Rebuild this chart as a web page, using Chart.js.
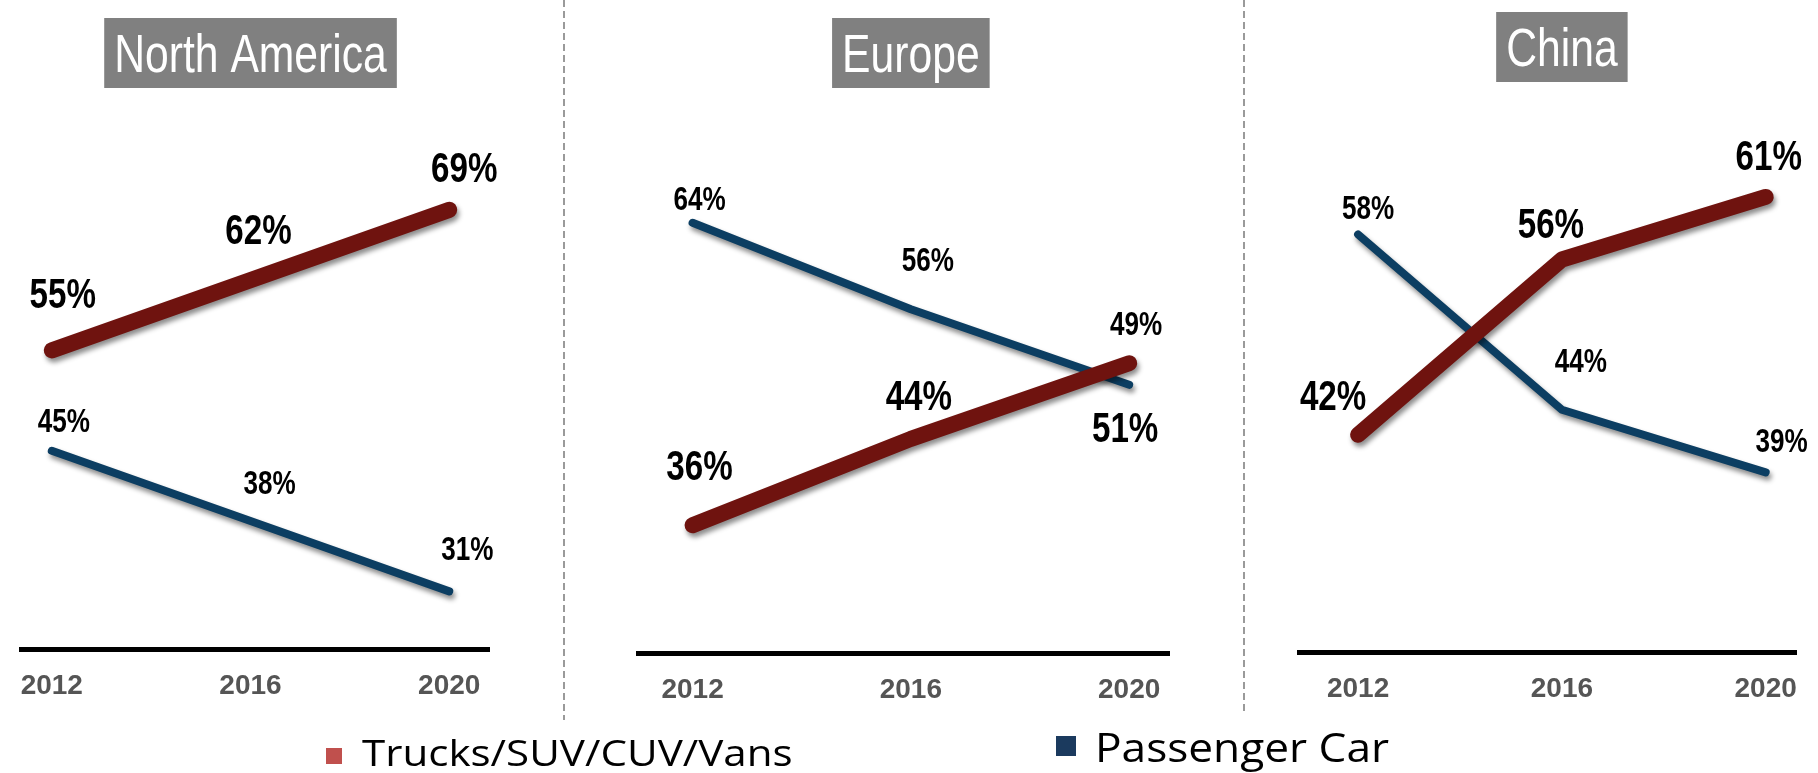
<!DOCTYPE html>
<html><head><meta charset="utf-8">
<script src="https://cdn.jsdelivr.net/npm/chart.js@4.4.1/dist/chart.umd.min.js"></script>
<style>
html,body{margin:0;padding:0;background:#fff;}
#wrap{position:relative;width:1818px;height:773px;overflow:hidden;background:#fff;}
canvas{position:absolute;top:0;}
.sep{position:absolute;top:0;width:2px;background:repeating-linear-gradient(to bottom,#9a9a9a 0 7px,rgba(255,255,255,0) 7px 11px);}
.leg{position:absolute;font-family:'Open Sans',sans-serif;color:#000;white-space:nowrap;line-height:1;transform-origin:0 0;}
.sw{position:absolute;}
</style></head><body>
<div id="wrap">
<canvas id="c0" width="560" height="773" style="left:0px"></canvas>
<canvas id="c1" width="672" height="773" style="left:568px"></canvas>
<canvas id="c2" width="570" height="773" style="left:1248px"></canvas>
<div class="sep" style="left:563px;height:720px"></div>
<div class="sep" style="left:1243px;height:715px"></div>
<div class="sw" style="left:326px;top:748px;width:16px;height:16px;background:#C0504D"></div>
<div class="leg" id="l0" style="left:362px;top:735px;font-size:36px;transform:scaleX(1.17)"></div>
<div class="sw" style="left:1056px;top:736px;width:20px;height:20px;background:#1B3A5E"></div>
<div class="leg" id="l1" style="left:1095px;top:727px;font-size:40px;transform:scaleX(1.105)"></div>
</div>
<script>
// ---- data ----
const years = [2012, 2016, 2020];
const regions = ['North America', 'Europe', 'China'];
const seriesNames = ['Trucks/SUV/CUV/Vans', 'Passenger Car'];
const naTrucks = [55, 62, 69];
const naCars = [45, 38, 31];
const euTrucks = [36, 44, 51];
const euCars = [64, 56, 49];
const cnTrucks = [42, 56, 61];
const cnCars = [58, 44, 39];

// ---- styles / layout ----
const RED = '#6F130F';
const BLUE = '#0C3E62';
const SQUEEZE = 0.79;

document.getElementById('l0').textContent = seriesNames[0];
document.getElementById('l1').textContent = seriesNames[1];

const panels = [
  {id:'c0', title:regions[0], trucks:naTrucks, cars:naCars,
   pad:{left:10, right:71, top:100, bottom:0}, axisH:124,
   xMin:2011.40, xMax:2020.80, yMin:25.26, yMax:79.94, titleTop:18,
   offT:[[11,-57],[8,-51],[15,-43]], offC:[[12,-31],[19,-39],[18,-43]]},
  {id:'c1', title:regions[1], trucks:euTrucks, cars:euCars,
   pad:{left:70, right:71, top:100, bottom:0}, axisH:120,
   xMin:2011.0, xMax:2020.73, yMin:24.17, yMax:75.37, titleTop:18,
   offT:[[7,-60],[8,-44],[-4,64]], offC:[[7,-25],[17,-50],[7,-62]]},
  {id:'c2', title:regions[2], trucks:cnTrucks, cars:cnCars,
   pad:{left:51, right:19, top:100, bottom:0}, axisH:121,
   xMin:2010.84, xMax:2020.60, yMin:24.65, yMax:68.74, titleTop:12,
   offT:[[-25,-40],[-11,-37],[3,-42]], offC:[[10,-27],[19,-50],[16,-32]]}
];

const shadowPlugin = {
  id:'lineShadow',
  beforeDatasetDraw(chart){
    const c = chart.ctx; c.save();
    c.shadowColor = 'rgba(0,0,0,0.45)'; c.shadowBlur = 5;
    c.shadowOffsetX = 2; c.shadowOffsetY = 4;
  },
  afterDatasetDraw(chart){ chart.ctx.restore(); }
};

const labelPlugin = {
  id:'valueLabels',
  afterDatasetsDraw(chart, args, opts){
    const ctx = chart.ctx;
    chart.data.datasets.forEach((ds, di) => {
      const meta = chart.getDatasetMeta(di);
      const big = di === 0;
      const size = big ? 42 : 33;
      const offs = big ? opts.offT : opts.offC;
      meta.data.forEach((pt, i) => {
        const v = ds.data[i].y;
        const x = pt.x + offs[i][0];
        const y = pt.y + offs[i][1] + 0.358 * size;
        ctx.save();
        ctx.translate(x, y);
        ctx.scale(SQUEEZE, 1);
        ctx.font = 'bold ' + size + 'px "Liberation Sans", Arial, sans-serif';
        ctx.fillStyle = '#000';
        ctx.textAlign = 'center';
        ctx.textBaseline = 'alphabetic';
        ctx.fillText(v + '%', 0, 0);
        ctx.restore();
      });
    });
  },
  afterDraw(chart, args, opts){
    const ctx = chart.ctx;
    const cx = chart.scales.x.getPixelForValue(years[1]);
    ctx.save();
    ctx.font = '54px "Liberation Sans", Arial, sans-serif';
    const tw = ctx.measureText(opts.title).width * SQUEEZE;
    const bw = tw + 20;
    ctx.fillStyle = '#808080';
    ctx.fillRect(cx - bw / 2, opts.titleTop, bw, 70);
    ctx.translate(cx, opts.titleTop + 54);
    ctx.scale(SQUEEZE, 1);
    ctx.fillStyle = '#fff';
    ctx.textAlign = 'center';
    ctx.textBaseline = 'alphabetic';
    ctx.fillText(opts.title, 0, 0);
    ctx.restore();
  }
};

panels.forEach(p => {
  const toXY = arr => arr.map((v, i) => ({x: years[i], y: v}));
  new Chart(document.getElementById(p.id), {
    type:'line',
    data:{
      datasets:[
        {label:seriesNames[0], data:toXY(p.trucks), borderColor:RED, borderWidth:16,
         borderCapStyle:'round', borderJoinStyle:'round', pointRadius:0, tension:0, clip:false},
        {label:seriesNames[1], data:toXY(p.cars), borderColor:BLUE, borderWidth:8,
         borderCapStyle:'round', borderJoinStyle:'round', pointRadius:0, tension:0, clip:false}
      ]
    },
    options:{
      responsive:false, animation:false, devicePixelRatio:1,
      layout:{padding:p.pad},
      plugins:{
        legend:{display:false}, tooltip:{enabled:false}, title:{display:false},
        valueLabels:{offT:p.offT, offC:p.offC, title:p.title, titleTop:p.titleTop}
      },
      scales:{
        x:{type:'linear', min:p.xMin, max:p.xMax,
           grid:{color:'rgba(0,0,0,0)', drawTicks:false},
           border:{display:true, color:'#000', width:5},
           afterBuildTicks(s){ s.ticks = years.map(v => ({value:v})); },
           afterFit(s){ s.height = p.axisH; },
           ticks:{autoSkip:false, maxRotation:0, padding:20, color:'#555555',
                  font:{family:"'Liberation Sans Narrow','Arial Narrow','Liberation Sans',sans-serif", size:28, weight:'bold'},
                  callback:v => String(v)}},
        y:{display:false, min:p.yMin, max:p.yMax}
      }
    },
    plugins:[shadowPlugin, labelPlugin]
  });
});
</script>
</body></html>
